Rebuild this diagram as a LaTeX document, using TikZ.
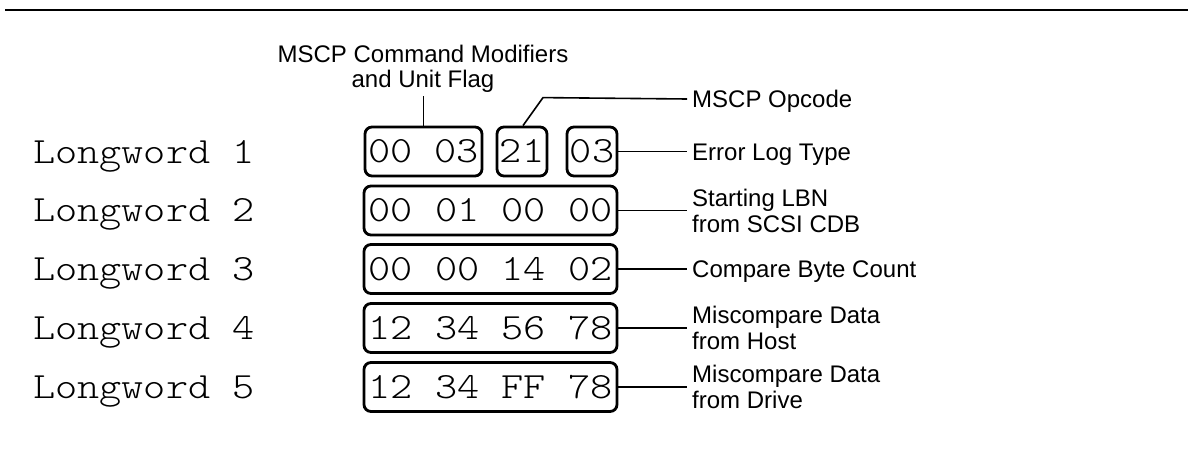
\documentclass[tikz,border=0pt]{standalone}
\usepackage{fontspec}
\usepackage{graphicx}
\setsansfont{Liberation Sans}
\usetikzlibrary{positioning,calc}

% wide, light typewriter text for the hex fields and row captions
\newcommand{\hexfont}[1]{\scalebox{1.14}[1]{\fontsize{37}{40}\ttfamily\fontseries{l}\selectfont #1}}

\tikzset{
  field/.style={draw, line width=2.8pt, rounded corners=7pt, inner xsep=0pt, inner ysep=0pt,
                minimum height=49pt, text height=22pt, text depth=0pt},
  rowname/.style={anchor=base west, inner sep=0pt},
  note/.style={anchor=west, inner xsep=5pt, inner ysep=0pt, align=left,
               font=\sffamily\fontsize{24}{26.5}\selectfont},
  onenote/.style={note, text height=17.2pt, text depth=0pt},
  lead/.style={line width=1.6pt},
}

\begin{document}
\begin{tikzpicture}[x=1pt, y=-1pt]
\useasboundingbox (0,0) rectangle (1188,468);

% rule across the top
\coordinate (ruleL) at (5,10);
\coordinate (ruleR) at (1188,10);
\draw[line width=2pt] (ruleL) -- (ruleR);

% row captions
\node[rowname] (lw1) at (33,163)   {\hexfont{Longword 1}};
\node[rowname] (lw2) at (33,221.5) {\hexfont{Longword 2}};
\node[rowname] (lw3) at (33,280)   {\hexfont{Longword 3}};
\node[rowname] (lw4) at (33,339)   {\hexfont{Longword 4}};
\node[rowname] (lw5) at (33,398)   {\hexfont{Longword 5}};

% longword fields
\node[field, minimum width=117pt] (b1a) at (423.5,151.5) {\hexfont{00 03}};
\node[field, minimum width=50pt]  (b1b) at (522,151.5)   {\hexfont{21}};
\node[field, minimum width=50pt]  (b1c) at (592,151.5)   {\hexfont{03}};
\node[field, minimum width=253pt] (b2) at (490.5,210.5) {\hexfont{00 01 00 00}};
\node[field, minimum width=253pt] (b3) at (490.5,269)   {\hexfont{00 00 14 02}};
\node[field, minimum width=253pt] (b4) at (490.5,328)   {\hexfont{12 34 56 78}};
\node[field, minimum width=253pt] (b5) at (490.5,387)   {\hexfont{12 34 FF 78}};

% annotations
\node[note, anchor=north, align=center, inner sep=0pt,
      font=\sffamily\fontsize{24}{25}\selectfont] (cmd) at (423,44.5)
  {MSCP Command Modifiers\\and Unit Flag};
\node[onenote] (opc) at (687,99)  {MSCP Opcode};
\node[onenote] (elt) at (687,151.5) {Error Log Type};
\node[note]    (lbn) at (687,211) {Starting LBN\\from SCSI CDB};
\node[onenote] (cbc) at (687,269) {Compare Byte Count};
\node[note]    (mdh) at (687,328) {Miscompare Data\\from Host};
\node[note]    (mdd) at (687,387) {Miscompare Data\\from Drive};

% leader lines
\draw[lead] (b1a.north) -- ([yshift=-4pt]b1a.north |- cmd.south);
\draw[lead] ([xshift=1pt]b1b.north) -- ++(20,-28) -- (opc.west);
\draw[lead] (b1c.east) -- (elt.west |- b1c.east);
\draw[lead] (b2.east) -- (lbn.west |- b2.east);
\draw[lead] (b3.east) -- (cbc.west |- b3.east);
\draw[lead] (b4.east) -- (mdh.west |- b4.east);
\draw[lead] (b5.east) -- (mdd.west |- b5.east);
\end{tikzpicture}
\end{document}
